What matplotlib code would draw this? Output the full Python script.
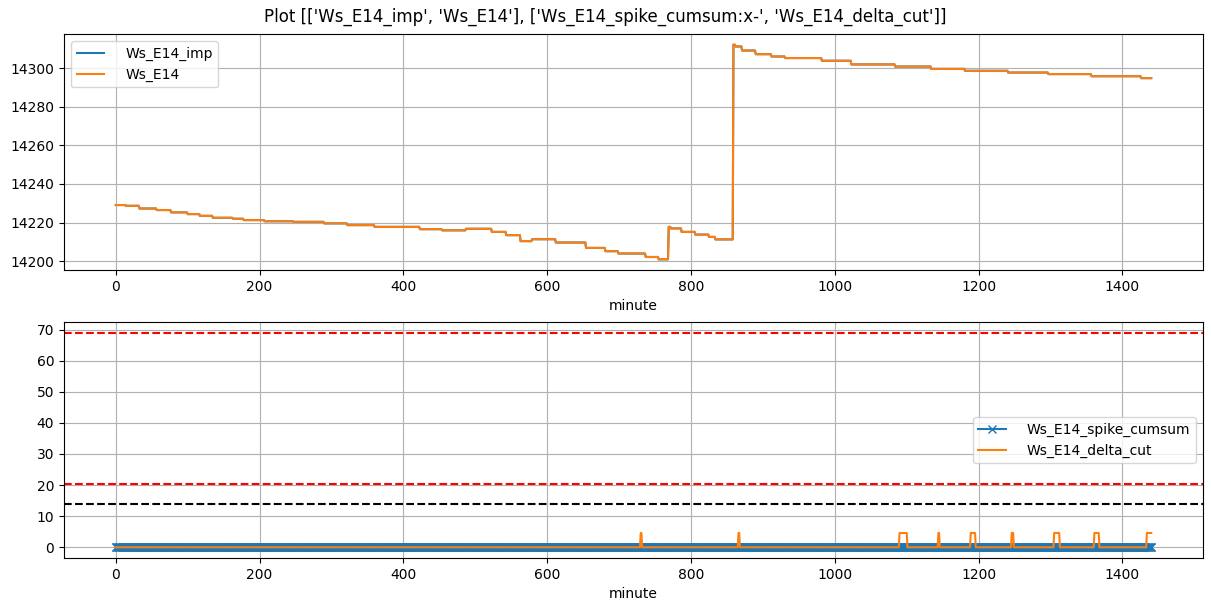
import numpy as np
import matplotlib.pyplot as plt

# step levels of Ws_E14 (minute where the level starts, value)
step_minutes = [0, 14, 33, 57, 77, 100, 117, 135, 163, 178, 207, 247, 290, 322, 360,
                423, 454, 487, 523, 543, 563, 579, 612, 654, 681, 699, 737, 755, 769,
                772, 787, 806, 825, 834, 859, 862, 871, 890, 912, 931, 982, 1023, 1084,
                1134, 1181, 1241, 1297, 1357, 1426, 1440]
step_values = [14229.1, 14228.7, 14227.3, 14226.5, 14225.3, 14224.4, 14223.5, 14222.5,
               14222.0, 14221.3, 14220.7, 14220.4, 14219.6, 14218.7, 14217.8, 14216.6,
               14216.0, 14216.8, 14215.2, 14213.5, 14210.4, 14211.4, 14209.7, 14206.9,
               14205.2, 14204.0, 14202.2, 14201.0, 14217.8, 14217.0, 14215.2, 14213.8,
               14212.6, 14211.3, 14312.1, 14311.2, 14309.1, 14307.2, 14306.0, 14305.2,
               14303.8, 14301.9, 14300.8, 14299.6, 14298.6, 14297.7, 14296.9, 14295.8,
               14294.8, 14294.8]

# delta_cut pulses (first minute, last minute, height)
pulse_start = [730, 866, 1090, 1144, 1189, 1246, 1305, 1361, 1434]
pulse_end = [731, 867, 1100, 1145, 1195, 1248, 1312, 1367, 1440]
pulse_height = [4.6, 4.6, 4.6, 4.6, 4.6, 4.6, 4.6, 4.6, 4.6]

thr_red = [69.0, 20.4]
thr_black = 14.0

minute = np.arange(0, 1441)
ws = np.array(step_values)[np.searchsorted(step_minutes, minute, side='right') - 1]
spike_cumsum = np.zeros(len(minute))
delta_cut = np.zeros(len(minute))
for s, e, h in zip(pulse_start, pulse_end, pulse_height):
    delta_cut[s:e + 1] = h

fig, (ax1, ax2) = plt.subplots(2, 1, figsize=(12.11, 6.11), dpi=100)
fig.subplots_adjust(left=64/1211, right=1203/1211, top=1 - 34/611, bottom=1 - 558/611,
                    hspace=0.22)
fig.suptitle("Plot [['Ws_E14_imp', 'Ws_E14'], ['Ws_E14_spike_cumsum:x-', 'Ws_E14_delta_cut']]",
             y=0.987)

ax1.plot(minute, ws, label='Ws_E14_imp')
ax1.plot(minute, ws, label='Ws_E14')
ax1.set_xlabel('minute')
ax1.grid(True)
ax1.legend(loc='upper left', handletextpad=1.5)

ax2.plot(minute, spike_cumsum, 'x-', label='Ws_E14_spike_cumsum')
ax2.plot(minute, delta_cut, label='Ws_E14_delta_cut')
for v in thr_red:
    ax2.axhline(v, color='red', linestyle='--')
ax2.axhline(thr_black, color='black', linestyle='--')
ax2.set_xlabel('minute')
ax2.grid(True)
ax2.legend(loc='center right', handletextpad=1.5)

fig.savefig('out.png')
